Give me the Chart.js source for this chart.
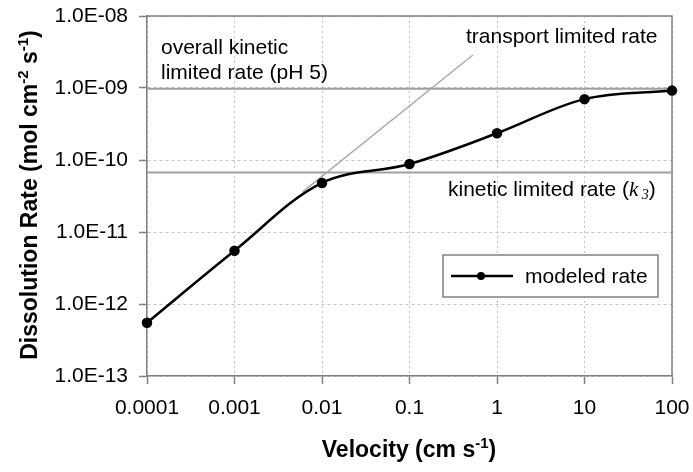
<!DOCTYPE html>
<html>
<head>
<meta charset="utf-8">
<script src="https://cdn.jsdelivr.net/npm/chart.js@4.4.1/dist/chart.umd.min.js"></script>
<style>
  html, body { margin:0; padding:0; background:#fff; }
  #wrap { width:693px; height:472px; position:relative; }
</style>
</head>
<body>
<div id="wrap"><canvas id="chart"></canvas></div>
<script>
'use strict';
// ─── Data ─────────────────────────────────────────────────────────────────────
const velocity = [0.0001, 0.001, 0.01, 0.1, 1, 10, 100];
const modeledRate = [5.5e-13, 5.5e-12, 4.8e-11, 8.8e-11, 2.35e-10, 7.0e-10, 9.2e-10];
const overallKineticRate = 9.8e-10;   // overall kinetic limited rate, pH 5
const k3KineticRate = 6.7e-11;        // kinetic limited rate (k3)
const transportVelocity = [0.006, 0.53];
const transportRate = [3.6e-11, 2.87e-9];

const xTickValues = [0.0001, 0.001, 0.01, 0.1, 1, 10, 100];
const xTickLabels = ['0.0001', '0.001', '0.01', '0.1', '1', '10', '100'];
const yTickValues = [1e-13, 1e-12, 1e-11, 1e-10, 1e-9, 1e-8];
const yTickLabels = ['1.0E-13', '1.0E-12', '1.0E-11', '1.0E-10', '1.0E-09', '1.0E-08'];

// ─── Style ────────────────────────────────────────────────────────────────────
const FAM = 'Arial, "Liberation Sans", sans-serif';
const SERIF = '"Times New Roman", "Liberation Serif", serif';
const AXIS = '#808080', GRID = '#c4c4c4', REF = '#a0a0a0';

const pts = (xs, ys) => xs.map((x, i) => ({x, y: ys[i]}));
const flat = v => [{x: velocity[0], y: v}, {x: velocity[velocity.length - 1], y: v}];

// draws a run of text pieces (for super/subscripts)
const drawRich = (ctx, parts, x, y, align) => {
  let w = 0;
  parts.forEach(p => { ctx.font = p.font; p.w = ctx.measureText(p.t).width; w += p.w; });
  let cx = align === 'center' ? x - w / 2 : x;
  ctx.textAlign = 'left';
  ctx.textBaseline = 'alphabetic';
  parts.forEach(p => { ctx.font = p.font; ctx.fillText(p.t, cx, y + (p.dy || 0)); cx += p.w; });
};

// ─── Frame, labels, legend ────────────────────────────────────────────────────
const framePlugin = {
  id: 'frame',
  beforeDatasetsDraw(chart) {
    const {ctx, chartArea: a} = chart;
    ctx.save();
    ctx.strokeStyle = AXIS; ctx.lineWidth = 1.5;
    ctx.beginPath();
    ctx.moveTo(a.left, a.top); ctx.lineTo(a.right, a.top); ctx.lineTo(a.right, a.bottom);
    ctx.stroke();
    ctx.restore();
  },
  afterDraw(chart) {
    const {ctx} = chart;
    const n = '21px ' + FAM;
    ctx.save();
    ctx.fillStyle = '#000';

    // annotations
    drawRich(ctx, [{t: 'overall kinetic', font: n}], 161, 54);
    drawRich(ctx, [{t: 'limited rate (pH 5)', font: n}], 161, 79);
    drawRich(ctx, [{t: 'transport limited rate', font: n}], 466, 43);
    drawRich(ctx, [
      {t: 'kinetic limited rate (', font: n},
      {t: 'k', font: 'italic 21px ' + SERIF},
      {t: ' 3', font: 'italic 14px ' + SERIF, dy: 3},
      {t: ')', font: n}
    ], 448, 196);

    // axis titles
    const b = 'bold 23px ' + FAM, bs = 'bold 15px ' + FAM;
    drawRich(ctx, [
      {t: 'Velocity (cm s', font: b},
      {t: '-1', font: bs, dy: -9},
      {t: ')', font: b}
    ], 409, 457, 'center');
    ctx.save();
    ctx.translate(37, 195);
    ctx.rotate(-Math.PI / 2);
    drawRich(ctx, [
      {t: 'Dissolution Rate (mol cm', font: b},
      {t: '-2', font: bs, dy: -9},
      {t: ' s', font: b},
      {t: '-1', font: bs, dy: -9},
      {t: ')', font: b}
    ], 0, 0, 'center');
    ctx.restore();

    // legend
    const ds = chart.data.datasets[0];
    ctx.fillStyle = '#fff';
    ctx.fillRect(443, 255, 215, 42);
    ctx.strokeStyle = AXIS; ctx.lineWidth = 1.5;
    ctx.strokeRect(443, 255, 215, 42);
    ctx.strokeStyle = ds.borderColor; ctx.lineWidth = ds.borderWidth;
    ctx.beginPath(); ctx.moveTo(451, 276); ctx.lineTo(513, 276); ctx.stroke();
    ctx.fillStyle = ds.backgroundColor;
    ctx.beginPath(); ctx.arc(481, 276, ds.pointRadius, 0, Math.PI * 2); ctx.fill();
    ctx.fillStyle = '#000';
    drawRich(ctx, [{t: ds.label, font: n}], 525, 283);
    ctx.restore();
  }
};

new Chart(document.getElementById('chart'), {
  type: 'line',
  data: {
    datasets: [
      {label: 'modeled rate', data: pts(velocity, modeledRate), borderColor: '#000', backgroundColor: '#000',
       borderWidth: 2.5, pointRadius: 4, pointHoverRadius: 4, tension: 0.35, clip: false},
      {label: 'transport limited rate', data: pts(transportVelocity, transportRate), borderColor: '#aaa',
       borderWidth: 1.5, pointRadius: 0},
      {label: 'overall kinetic limited rate', data: flat(overallKineticRate), borderColor: REF, borderWidth: 2, pointRadius: 0},
      {label: 'kinetic limited rate (k3)', data: flat(k3KineticRate), borderColor: REF, borderWidth: 2, pointRadius: 0}
    ]
  },
  options: {
    responsive: true, maintainAspectRatio: false, animation: false, events: [],
    layout: {padding: {top: 16, right: 21, bottom: 0, left: 0}},
    plugins: {legend: {display: false}, tooltip: {enabled: false}},
    scales: {
      x: {
        type: 'logarithmic', min: 1e-4, max: 100,
        afterBuildTicks: s => { s.ticks = xTickValues.map(v => ({value: v})); },
        afterFit: s => { s.height = 96; s.paddingLeft = 0; s.paddingRight = 0; },
        ticks: {callback: (v, i) => xTickLabels[i], font: {family: FAM, size: 21}, color: '#000',
                padding: 12, maxRotation: 0, autoSkip: false},
        grid: {color: GRID, lineWidth: 1, tickColor: AXIS, tickLength: 8, tickWidth: 1.5},
        border: {color: AXIS, width: 1.5, dash: [2, 3]}
      },
      y: {
        type: 'logarithmic', min: 1e-13, max: 1e-8,
        afterBuildTicks: s => { s.ticks = yTickValues.map(v => ({value: v})); },
        afterFit: s => { s.width = 147; s.paddingTop = 0; s.paddingBottom = 0; },
        ticks: {callback: (v, i) => yTickLabels[i], font: {family: FAM, size: 21}, color: '#000',
                padding: 11, autoSkip: false},
        grid: {color: GRID, lineWidth: 1, tickColor: AXIS, tickLength: 8, tickWidth: 1.5},
        border: {color: AXIS, width: 1.5, dash: [3, 3]}
      }
    }
  },
  plugins: [framePlugin]
});
</script>
</body>
</html>
